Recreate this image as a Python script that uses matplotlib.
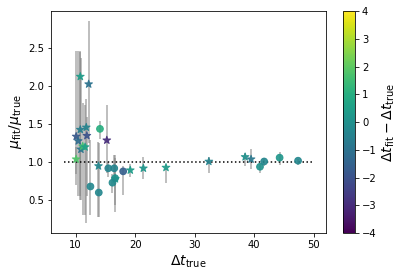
import numpy as np
import matplotlib
matplotlib.use("Agg")
import matplotlib.pyplot as plt

# star markers
star_dt = [10.8, 12.2, 10.1, 10.45, 10.8, 11.8, 11.9, 10.9, 11.2, 11.6, 10.1, 15.25,
           13.85, 16.7, 19.2, 21.4, 25.2, 32.4, 38.5, 39.5]
star_mu = [2.13, 2.03, 1.34, 1.28, 1.43, 1.46, 1.35, 1.17, 1.21, 1.20, 1.04, 1.29,
           0.95, 0.78, 0.895, 0.92, 0.93, 1.01, 1.07, 1.04]
star_lo = [0.55, 1.25, 0.70, 0.55, 0.50, 0.20, 0.55, 0.50, 0.30, 0.30, 0.85, 0.86,
           0.28, 0.43, 0.80, 0.78, 0.72, 0.86, 0.95, 0.91]
star_hi = [2.47, 2.86, 2.47, 2.47, 2.45, 1.84, 1.60, 2.37, 1.78, 1.75, 1.20, 1.76,
           1.27, 1.10, 0.98, 1.07, 0.97, 1.07, 1.12, 1.18]
star_c = [0.4, -1.0, -1.8, -1.2, -0.6, -0.4, -2.0, -0.9, 1.6, 0.6, 1.8, -3.0,
          -0.3, 0.4, 0.4, 0.2, 0.4, -0.4, 0.0, -0.8]

# circle markers
circ_dt = [14.1, 15.5, 16.5, 16.65, 16.2, 18.0, 12.5, 13.9, 41.0, 41.7, 44.3, 47.4]
circ_mu = [1.44, 0.92, 0.92, 0.79, 0.73, 0.88, 0.68, 0.60, 0.94, 1.01, 1.06, 1.02]
circ_lo = [1.30, 0.80, 0.70, 0.35, 0.60, 0.57, 0.30, 0.28, 0.86, 0.95, 0.96, 0.97]
circ_hi = [1.55, 1.00, 1.10, 1.05, 0.85, 0.95, 1.29, 1.26, 0.98, 1.05, 1.14, 1.04]
circ_c = [1.0, -0.4, -0.4, 0.0, -0.2, -1.6, -0.3, -0.3, 0.1, -0.3, 0.2, -0.3]

fig = plt.figure(figsize=(403 / 72, 278 / 72), dpi=72)
ax = fig.add_axes([0.127, 0.162, 0.682, 0.798])
cax = fig.add_axes([0.851, 0.162, 0.030, 0.798])

for dt, mu, lo, hi in [(star_dt, star_mu, star_lo, star_hi),
                       (circ_dt, circ_mu, circ_lo, circ_hi)]:
    dt, mu = np.array(dt), np.array(mu)
    yerr = [mu - np.array(lo), np.array(hi) - mu]
    ax.errorbar(dt, mu, yerr=yerr, fmt='none', ecolor='gray', alpha=0.5, elinewidth=2)

ax.plot([8, 50], [1, 1], 'k:')

sc = ax.scatter(star_dt, star_mu, c=star_c, cmap='viridis', vmin=-4, vmax=4,
                marker='*', s=65, alpha=0.9, zorder=3)
ax.scatter(circ_dt, circ_mu, c=circ_c, cmap='viridis', vmin=-4, vmax=4,
           marker='o', s=45, alpha=0.9, zorder=3)

ax.set_xlabel(r'$\Delta t_{\rm true}$', fontsize=14)
ax.set_ylabel(r'$\mu_{\rm fit}/\mu_{\rm true}$', fontsize=14)
ax.set_xticks([10, 20, 30, 40, 50])
ax.set_yticks([0.5, 1.0, 1.5, 2.0, 2.5])

cb = fig.colorbar(sc, cax=cax)
cb.solids.set_alpha(1)
cb.set_ticks(range(-4, 5))
cb.set_label(r'$\Delta t_{\rm fit} - \Delta t_{\rm true}$', fontsize=14)

fig.savefig('out.png', dpi=72)
